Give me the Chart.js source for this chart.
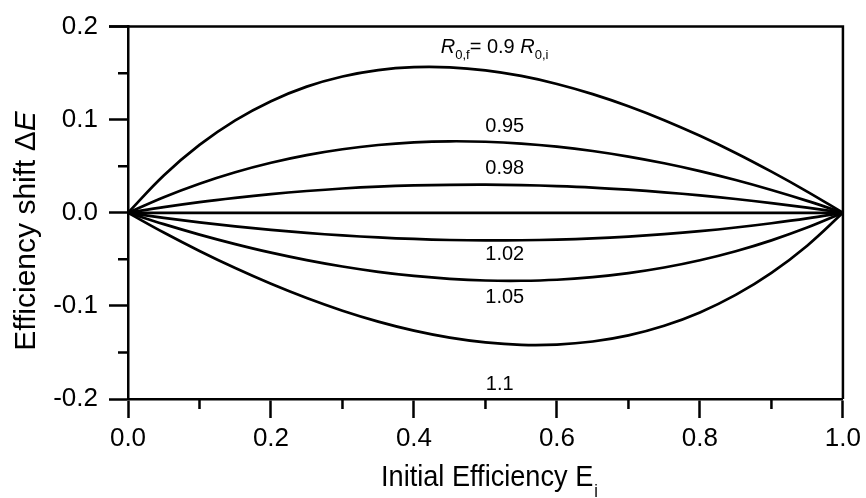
<!DOCTYPE html>
<html>
<head>
<meta charset="utf-8">
<script src="https://cdn.jsdelivr.net/npm/chart.js@4.4.0/dist/chart.umd.min.js"></script>
<style>
  html, body { margin: 0; padding: 0; background: #fff; }
  #wrap { width: 866px; height: 498px; }
</style>
</head>
<body>
<div id="wrap"><canvas id="fretChart" width="866" height="498"></canvas></div>
<script>
// initial efficiency E_i
const effInit = [0, 0.05, 0.1, 0.15, 0.2, 0.25, 0.3, 0.35, 0.4, 0.45, 0.5,
  0.55, 0.6, 0.65, 0.7, 0.75, 0.8, 0.85, 0.9, 0.95, 1.0];

// efficiency shift
const shift090 = [0, 0.0401, 0.0729, 0.0993, 0.1199, 0.1355, 0.1464, 0.1533, 0.1564, 0.1562, 0.1530,
  0.1470, 0.1384, 0.1275, 0.1145, 0.0995, 0.0827, 0.0643, 0.0442, 0.0228, 0];
const shift095 = [0, 0.0168, 0.0313, 0.0436, 0.0538, 0.0620, 0.0683, 0.0728, 0.0756, 0.0768, 0.0763,
  0.0744, 0.0711, 0.0664, 0.0604, 0.0532, 0.0448, 0.0352, 0.0245, 0.0128, 0];
const shift098 = [0, 0.0061, 0.0115, 0.0161, 0.0201, 0.0234, 0.0261, 0.0281, 0.0294, 0.0301, 0.0303,
  0.0298, 0.0287, 0.0271, 0.0248, 0.0220, 0.0187, 0.0148, 0.0104, 0.0055, 0];
const shift100 = [0, 0, 0, 0, 0, 0, 0, 0, 0, 0, 0, 0, 0, 0, 0, 0, 0, 0, 0, 0, 0];
const shift102 = [0, -0.0054, -0.0102, -0.0145, -0.0183, -0.0216, -0.0243, -0.0265, -0.0281, -0.0292, -0.0297,
  -0.0295, -0.0288, -0.0275, -0.0255, -0.0229, -0.0197, -0.0158, -0.0112, -0.0060, 0];
const shift105 = [0, -0.0122, -0.0234, -0.0336, -0.0428, -0.0508, -0.0577, -0.0634, -0.0678, -0.0709, -0.0727,
  -0.0730, -0.0719, -0.0691, -0.0648, -0.0588, -0.0510, -0.0413, -0.0296, -0.0159, 0];
const shift110 = [0, -0.0212, -0.0410, -0.0594, -0.0763, -0.0916, -0.1052, -0.1169, -0.1266, -0.1341, -0.1392,
  -0.1418, -0.1415, -0.1382, -0.1316, -0.1213, -0.1070, -0.0882, -0.0645, -0.0353, 0];

const xTicks = [0, 0.2, 0.4, 0.6, 0.8, 1.0];
const yTicks = [-0.2, -0.1, 0, 0.1, 0.2];
const xMinor = [0.1, 0.3, 0.5, 0.7, 0.9];
const yMinor = [-0.15, -0.05, 0.05, 0.15];

// curve labels: text, centre x, baseline y (data units)
const curveLabels = [
  ["0.95", 0.527, 0.087],
  ["0.98", 0.527, 0.0414],
  ["1.02", 0.527, -0.051],
  ["1.05", 0.527, -0.097],
  ["1.1", 0.52, -0.190]
];

const allSeries = [shift090, shift095, shift098, shift100, shift102, shift105, shift110];

const datasets = allSeries.map(s => ({
  data: s.map((v, i) => ({ x: effInit[i], y: v })),
  borderColor: "#000",
  borderWidth: 2.7,
  pointRadius: 0,
  tension: 0.4,
  fill: false
}));

const FONT = "'Liberation Sans', Arial, sans-serif";

const decorPlugin = {
  id: "decor",
  afterDraw(chart) {
    const ctx = chart.ctx;
    const xs = chart.scales.x;
    const ys = chart.scales.y;
    const a = chart.chartArea;
    ctx.save();
    ctx.strokeStyle = "#000";
    ctx.lineWidth = 2.5;
    // top and right frame
    ctx.beginPath();
    ctx.moveTo(a.left - 19, a.top);
    ctx.lineTo(a.right, a.top);
    ctx.lineTo(a.right, a.bottom);
    ctx.stroke();
    // minor ticks
    ctx.beginPath();
    xMinor.forEach(v => {
      const px = xs.getPixelForValue(v);
      ctx.moveTo(px, a.bottom);
      ctx.lineTo(px, a.bottom + 10);
    });
    yMinor.forEach(v => {
      const py = ys.getPixelForValue(v);
      ctx.moveTo(a.left, py);
      ctx.lineTo(a.left - 10, py);
    });
    ctx.stroke();

    ctx.fillStyle = "#000";
    ctx.textBaseline = "alphabetic";
    // curve labels
    ctx.font = "20px " + FONT;
    ctx.textAlign = "center";
    curveLabels.forEach(l => {
      ctx.fillText(l[0], xs.getPixelForValue(l[1]), ys.getPixelForValue(l[2]));
    });

    // top label R0,f = 0.9 R0,i
    let tx = xs.getPixelForValue(0.4375);
    const ty = ys.getPixelForValue(0.172);
    ctx.textAlign = "left";
    const parts = [
      ["R", "italic 20px " + FONT, 0],
      ["0,f", "13px " + FONT, 6],
      ["= 0.9 ", "20px " + FONT, 0],
      ["R", "italic 20px " + FONT, 0],
      ["0,i", "13px " + FONT, 6]
    ];
    parts.forEach(p => {
      ctx.font = p[1];
      ctx.fillText(p[0], tx, ty + p[2]);
      tx += ctx.measureText(p[0]).width;
    });

    // x axis title (slightly condensed like the original)
    ctx.save();
    ctx.translate(381, 486);
    ctx.scale(0.905, 1);
    ctx.font = "30px " + FONT;
    const t1 = "Initial Efficiency E";
    const w1 = ctx.measureText(t1).width;
    ctx.fillText(t1, 0, 0);
    ctx.font = "18px " + FONT;
    ctx.fillText("i", w1 + 1, 11);
    ctx.restore();

    // y axis title
    ctx.translate(35, 231);
    ctx.rotate(-Math.PI / 2);
    ctx.font = "30px " + FONT;
    const y1 = "Efficiency shift \u0394";
    const yw1 = ctx.measureText(y1).width;
    ctx.font = "italic 30px " + FONT;
    const yw2 = ctx.measureText("E").width;
    const ox = -(yw1 + yw2) / 2;
    ctx.font = "30px " + FONT;
    ctx.fillText(y1, ox, 0);
    ctx.font = "italic 30px " + FONT;
    ctx.fillText("E", ox + yw1, 0);
    ctx.restore();
  }
};

new Chart(document.getElementById("fretChart").getContext("2d"), {
  type: "line",
  data: { datasets: datasets },
  options: {
    responsive: false,
    animation: false,
    layout: { padding: { top: 25, right: 21, left: 0, bottom: 0 } },
    plugins: { legend: { display: false }, tooltip: { enabled: false } },
    scales: {
      x: {
        type: "linear",
        min: 0,
        max: 1,
        afterBuildTicks: s => { s.ticks = xTicks.map(v => ({ value: v })); },
        afterFit: s => { s.height = 99; },
        border: { display: true, color: "#000", width: 2.5 },
        grid: { drawOnChartArea: false, drawTicks: true, tickLength: 19, tickWidth: 2.5, tickColor: "#000" },
        ticks: {
          color: "#000",
          font: { family: FONT, size: 26 },
          padding: 5,
          maxRotation: 0,
          callback: v => v.toFixed(1)
        }
      },
      y: {
        type: "linear",
        min: -0.2,
        max: 0.2,
        afterBuildTicks: s => { s.ticks = yTicks.map(v => ({ value: v })); },
        afterFit: s => { s.width = 128; },
        border: { display: true, color: "#000", width: 2.5 },
        grid: { drawOnChartArea: false, drawTicks: true, tickLength: 19, tickWidth: 2.5, tickColor: "#000" },
        ticks: {
          color: "#000",
          font: { family: FONT, size: 26 },
          padding: 11,
          callback: v => (Math.abs(v) < 1e-9 ? 0 : v).toFixed(1)
        }
      }
    }
  },
  plugins: [decorPlugin]
});
</script>
</body>
</html>
